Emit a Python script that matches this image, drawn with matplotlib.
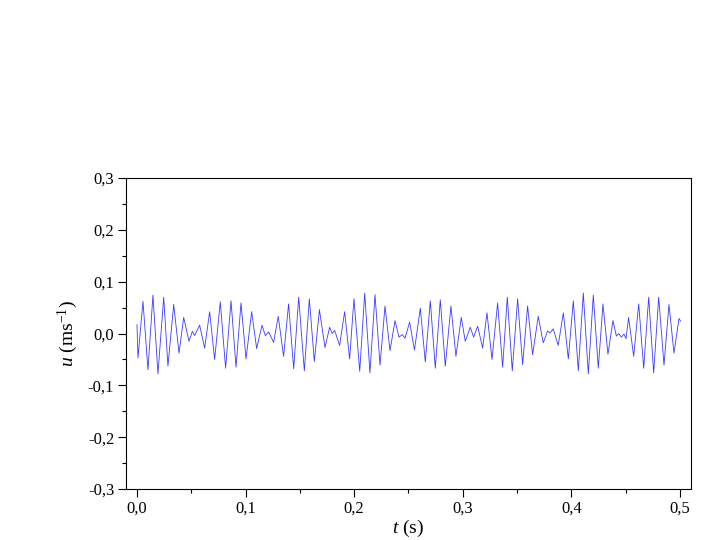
import matplotlib
matplotlib.use('Agg')
import matplotlib.pyplot as plt
from matplotlib.ticker import MultipleLocator, FuncFormatter

# peaks and troughs of the velocity signal
t = [0.0, 0.0009, 0.0055, 0.0101, 0.0147, 0.0193, 0.0246, 0.0285, 0.0338, 0.0387,
     0.0430, 0.0479, 0.0510, 0.0531, 0.0577, 0.0623, 0.0669, 0.0715, 0.0767, 0.0816,
     0.0866, 0.0912, 0.0958, 0.1004, 0.1056, 0.1102, 0.1151, 0.1182, 0.1212, 0.1258,
     0.1301, 0.1350, 0.1396, 0.1443, 0.1489, 0.1541, 0.1587, 0.1633, 0.1680, 0.1731,
     0.1774, 0.1798, 0.1820, 0.1866, 0.1912, 0.1958, 0.1998, 0.2051, 0.2097, 0.2145,
     0.2192, 0.2238, 0.2284, 0.2330, 0.2376, 0.2413, 0.2443, 0.2468, 0.2511, 0.2555,
     0.2609, 0.2655, 0.2701, 0.2747, 0.2793, 0.2839, 0.2891, 0.2937, 0.2986, 0.3023,
     0.3069, 0.3100, 0.3137, 0.3183, 0.3223, 0.3269, 0.3321, 0.3367, 0.3410, 0.3456,
     0.3505, 0.3551, 0.3597, 0.3643, 0.3695, 0.3741, 0.3782, 0.3803, 0.3833, 0.3879,
     0.3926, 0.3972, 0.4018, 0.4064, 0.4110, 0.4156, 0.4202, 0.4248, 0.4291, 0.4337,
     0.4383, 0.4414, 0.4435, 0.4460, 0.4484, 0.4503, 0.4527, 0.4574, 0.4620, 0.4666,
     0.4712, 0.4758, 0.4804, 0.4853, 0.4899, 0.4945, 0.4991, 0.5006]

u = [0.017, -0.047, 0.062, -0.070, 0.074, -0.078, 0.070, -0.063, 0.056, -0.038,
     0.031, -0.015, 0.004, -0.004, 0.016, -0.028, 0.042, -0.050, 0.061, -0.067,
     0.063, -0.065, 0.059, -0.049, 0.042, -0.029, 0.016, -0.004, 0.003, -0.017,
     0.033, -0.044, 0.057, -0.068, 0.070, -0.072, 0.067, -0.054, 0.046, -0.027,
     0.012, 0.000, 0.006, -0.023, 0.042, -0.049, 0.067, -0.073, 0.078, -0.076,
     0.075, -0.061, 0.053, -0.033, 0.025, -0.007, -0.002, -0.009, 0.022, -0.032,
     0.049, -0.055, 0.063, -0.067, 0.065, -0.063, 0.053, -0.044, 0.031, -0.015,
     0.012, -0.007, 0.014, -0.028, 0.040, -0.050, 0.059, -0.065, 0.070, -0.072,
     0.067, -0.060, 0.053, -0.041, 0.033, -0.018, 0.005, 0.001, 0.009, -0.023,
     0.040, -0.049, 0.063, -0.072, 0.078, -0.078, 0.074, -0.067, 0.057, -0.040,
     0.025, -0.005, 0.000, -0.007, -0.001, -0.010, 0.031, -0.044, 0.057, -0.067,
     0.070, -0.076, 0.070, -0.061, 0.056, -0.038, 0.029, 0.024]

plt.rcParams['font.family'] = 'Liberation Serif'
plt.rcParams['mathtext.fontset'] = 'custom'
plt.rcParams['mathtext.rm'] = 'Liberation Serif'
plt.rcParams['mathtext.it'] = 'Liberation Serif:italic'

fig = plt.figure(figsize=(7.06, 5.40), dpi=100)
ax = fig.add_axes([0.1785, 0.0944, 0.8003, 0.576])

ax.plot(t, u, color='#3a3aff', lw=0.6, solid_joinstyle='round')

ax.set_xlim(-0.0101, 0.5102)
ax.set_ylim(-0.3, 0.3)

ax.xaxis.set_major_locator(MultipleLocator(0.1))
ax.xaxis.set_minor_locator(MultipleLocator(0.05))
ax.yaxis.set_major_locator(MultipleLocator(0.1))
ax.yaxis.set_minor_locator(MultipleLocator(0.05))

comma = FuncFormatter(lambda v, pos: ('%.1f' % v).replace('.', ','))
ax.xaxis.set_major_formatter(comma)
ax.yaxis.set_major_formatter(comma)

ax.tick_params(which='both', direction='out', top=False, right=False,
               width=0.8, labelsize=12, colors='black')
ax.tick_params(which='major', length=5.5, pad=3)
ax.tick_params(which='minor', length=3)
for s in ax.spines.values():
    s.set_linewidth(0.8)

ax.set_xlabel(r'$t$ (s)', fontsize=14, labelpad=1)
ax.set_ylabel(r'$u$ (ms$^{\mathrm{-}1}$)', fontsize=14, labelpad=6)

fig.savefig('out.png', dpi=100)
